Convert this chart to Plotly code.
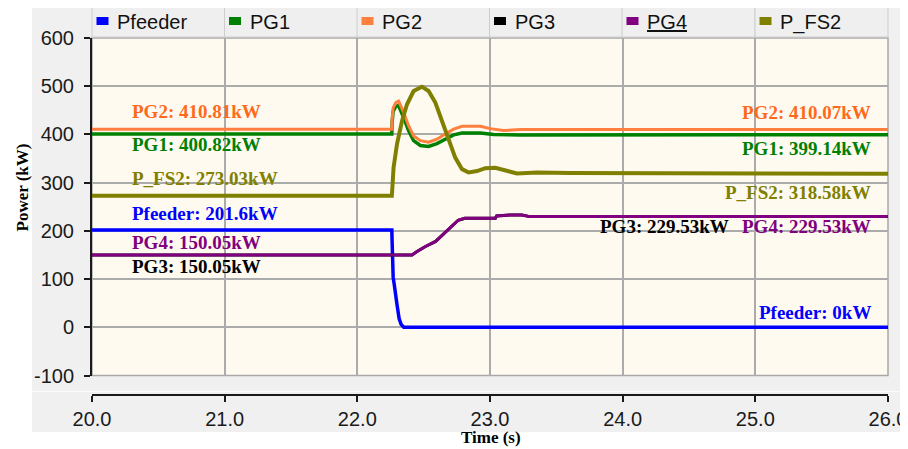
import plotly.graph_objects as go

# ---------------- data ----------------
series_names = ["Pfeeder", "PG1", "PG2", "PG3", "PG4", "P_FS2"]
series_colors = ["#0000ff", "#008000", "#ff7f3f", "#000000", "#800080", "#808000"]

t_pfeeder = [20.0, 22.26, 22.262, 22.265, 22.27, 22.28, 22.29, 22.30, 22.315, 22.33, 22.35, 26.0]
p_pfeeder = [201.6, 201.6, 180, 140, 104, 85, 60, 45, 18, 6, 0, 0]

t_pg1 = [20.0, 22.26, 22.262, 22.27, 22.29, 22.311, 22.349, 22.386, 22.424, 22.475, 22.537,
         22.60, 22.663, 22.726, 22.789, 22.927, 23.027, 23.228, 26.0]
p_pg1 = [400.82, 400.82, 425, 448, 458, 460, 435, 408, 387, 377, 375,
         381, 390, 399, 403, 403, 400, 399, 399.14]

t_pg2 = [20.0, 22.26, 22.262, 22.27, 22.29, 22.311, 22.349, 22.386, 22.424, 22.475, 22.537,
         22.60, 22.663, 22.726, 22.789, 22.927, 23.002, 23.10, 23.228, 23.48, 26.0]
p_pg2 = [410.81, 410.81, 430, 455, 466, 469, 446, 418, 397, 387, 384,
         390, 401, 411, 417, 417, 412, 408, 410, 410, 410.07]

t_pg3 = [20.0, 22.412, 22.45, 22.51, 22.59, 22.64, 22.69, 22.73, 22.76, 22.81, 23.04,
         23.05, 23.15, 23.24, 23.30, 26.0]
p_pg3 = [150.05, 150.05, 157, 167, 178, 191, 205, 215, 222, 226, 226,
         231, 233, 233, 229.53, 229.53]

t_pg4 = [20.0, 22.412, 22.45, 22.51, 22.59, 22.64, 22.69, 22.73, 22.76, 22.81, 23.04,
         23.05, 23.15, 23.24, 23.30, 26.0]
p_pg4 = [150.05, 150.05, 157, 167, 178, 191, 205, 215, 222, 226, 226,
         231, 233, 233, 229.53, 229.53]

t_pfs2 = [20.0, 22.26, 22.262, 22.273, 22.299, 22.337, 22.374, 22.424, 22.487, 22.537, 22.588,
          22.638, 22.688, 22.738, 22.789, 22.839, 22.902, 22.965, 23.04, 23.10, 23.203,
          23.354, 23.605, 26.0]
p_pfs2 = [273.03, 273.03, 280, 331, 380, 428, 462, 490, 499, 490, 466,
          428, 387, 352, 328, 321, 324, 330, 331, 326, 319,
          321, 320, 318.58]

x_ticks = [20, 21, 22, 23, 24, 25, 26]
x_tick_labels = ["20.0", "21.0", "22.0", "23.0", "24.0", "25.0", "26.0"]
y_ticks = [-100, 0, 100, 200, 300, 400, 500, 600]
y_tick_labels = ["-100", "0", "100", "200", "300", "400", "500", "600"]

# value labels: (text, colour, x, y, anchor)
value_labels = [
    ("PG2: 410.81kW", "#ff6a1a", 20.289, 448, "left"),
    ("PG1: 400.82kW", "#008000", 20.289, 380, "left"),
    ("P_FS2: 273.03kW", "#808000", 20.289, 308, "left"),
    ("Pfeeder: 201.6kW", "#0000ff", 20.289, 237, "left"),
    ("PG4: 150.05kW", "#800080", 20.289, 175, "left"),
    ("PG3: 150.05kW", "#000000", 20.289, 126, "left"),
    ("PG2: 410.07kW", "#ff6a1a", 25.889, 446, "right"),
    ("PG1: 399.14kW", "#008000", 25.889, 370, "right"),
    ("P_FS2: 318.58kW", "#808000", 25.889, 279, "right"),
    ("PG3: 229.53kW", "#000000", 23.816, 210, "left"),
    ("PG4: 229.53kW", "#800080", 25.889, 210, "right"),
    ("Pfeeder: 0kW", "#0000ff", 25.889, 30, "right"),
]

# ---------------- layout helpers ----------------
# the page body adds an 8px offset, so the figure is 8px smaller than the window
OFF = 8
W, H = 908 - OFF, 449 - OFF
ML, MR, MT, MB = 84, 20, 30, 54
PW, PH = W - ML - MR, H - MT - MB


def px(xp):
    """screen pixel x (as in the reference) -> paper x"""
    return (xp - OFF - ML) / PW


def py(yp):
    """screen pixel y (as in the reference) -> paper y"""
    return (H - MB - (yp - OFF)) / PH


fig = go.Figure()

xs = [t_pfeeder, t_pg1, t_pg2, t_pg3, t_pg4, t_pfs2]
ys = [p_pfeeder, p_pg1, p_pg2, p_pg3, p_pg4, p_pfs2]
widths = [3.5, 3.5, 3, 3, 3, 4]
for name, col, xv, yv, w in zip(series_names, series_colors, xs, ys, widths):
    fig.add_trace(go.Scatter(x=xv, y=yv, mode="lines", name=name,
                             line=dict(color=col, width=w), showlegend=False))

shapes = []
# grey panel background
shapes.append(dict(type="rect", xref="paper", yref="paper", x0=px(32), x1=px(920),
                   y0=py(432), y1=py(7), fillcolor="#f0f0f0", line=dict(width=0), layer="below"))
shapes.append(dict(type="line", xref="paper", yref="paper", x0=px(32), x1=px(920),
                   y0=py(391.5), y1=py(391.5), line=dict(color="#fbfbfb", width=1.2), layer="below"))
# cream plot area
shapes.append(dict(type="rect", xref="paper", yref="paper", x0=px(92), x1=px(888),
                   y0=py(375.5), y1=py(38), fillcolor="#fffaf0", line=dict(width=0), layer="below"))
# frame
shapes.append(dict(type="rect", xref="paper", yref="paper", x0=px(92), x1=px(888),
                   y0=py(375.5), y1=py(38), line=dict(color="#a8a8a8", width=1.5), layer="below"))

annotations = []
# custom legend cells
cell_starts = [92, 224.5, 357, 489.5, 622, 755]
cell_w = 133
for i, (name, col) in enumerate(zip(series_names, series_colors)):
    s = cell_starts[i]
    shapes.append(dict(type="rect", xref="paper", yref="paper", x0=px(s), x1=px(s + cell_w),
                       y0=py(37), y1=py(7), fillcolor="#efefef",
                       line=dict(color="#cdcdcd", width=1)))
    shapes.append(dict(type="rect", xref="paper", yref="paper", x0=px(s + 4.5), x1=px(s + 16.5),
                       y0=py(25), y1=py(17), fillcolor=col, line=dict(width=0)))
    label = "<u>%s</u>" % name if name == "PG4" else name
    annotations.append(dict(text=label, xref="paper", yref="paper", x=px(s + 23), y=py(22.5),
                            xanchor="left", yanchor="middle", showarrow=False,
                            font=dict(family="Arial, Liberation Sans", size=20, color="#111111")))

for text, col, xv, yv, anc in value_labels:
    annotations.append(dict(text=text, x=xv, y=yv, xref="x", yref="y", xanchor=anc,
                            yanchor="middle", showarrow=False,
                            font=dict(family="Times New Roman, Liberation Serif", size=19,
                                      color=col, weight="bold")))

annotations.append(dict(text="Time (s)", xref="paper", yref="paper", x=px(491), y=py(437.5),
                        xanchor="center", yanchor="middle", showarrow=False,
                        font=dict(family="Times New Roman, Liberation Serif", size=17,
                                  color="#000000", weight="bold")))
annotations.append(dict(text="Power (kW)", xref="paper", yref="paper", x=px(22.5), y=py(188),
                        xanchor="center", yanchor="middle", showarrow=False, textangle=-90,
                        font=dict(family="Times New Roman, Liberation Serif", size=17,
                                  color="#000000", weight="bold")))

fig.update_layout(
    width=W, height=H,
    margin=dict(l=ML, r=MR, t=MT, b=MB, pad=0, autoexpand=False),
    paper_bgcolor="#ffffff",
    plot_bgcolor="rgba(0,0,0,0)",
    shapes=shapes,
    annotations=annotations,
    xaxis=dict(range=[20, 26], tickvals=x_ticks, ticktext=x_tick_labels,
               anchor="free", position=0, showline=True, linecolor="#1a1a1a", linewidth=2,
               ticks="outside", ticklen=6, tickwidth=1.5, tickcolor="#1a1a1a",
               showgrid=True, gridcolor="#ababab", gridwidth=1.5, zeroline=False,
               automargin=False,
               tickfont=dict(family="Arial, Liberation Sans", size=20, color="#1a1a1a")),
    yaxis=dict(range=[-100, 600], tickvals=y_ticks, ticktext=y_tick_labels, domain=[py(375.5), 1],
               showline=True, linecolor="#1a1a1a", linewidth=2,
               ticks="outside", ticklen=6, tickwidth=1.5, tickcolor="#1a1a1a",
               showgrid=True, gridcolor="#ababab", gridwidth=1.5, zeroline=False,
               ticklabelstandoff=6, automargin=False,
               tickfont=dict(family="Arial, Liberation Sans", size=20, color="#1a1a1a")),
)

fig.write_html("out.html")
